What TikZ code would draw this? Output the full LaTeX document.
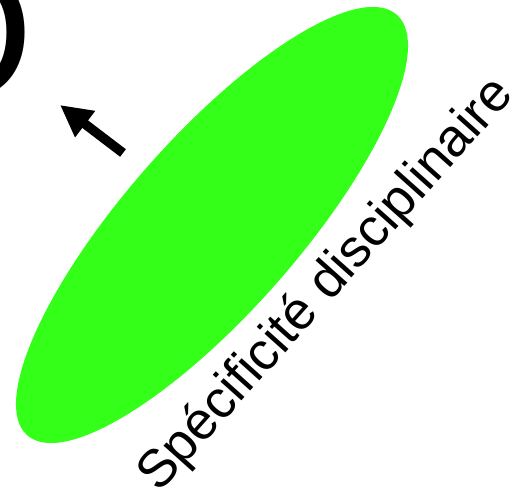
\documentclass[tikz,border=0pt]{standalone}
\usepackage{fontspec}
\setmainfont{Liberation Sans}
\usetikzlibrary{arrows.meta, positioning, shapes.geometric}

\definecolor{discgreen}{RGB}{51,255,25}

\begin{document}
\begin{tikzpicture}[
  x=0.02cm, y=0.02cm,
  blob/.style={ellipse, fill=discgreen, draw=none, inner sep=0pt, minimum width=11.2cm, minimum height=3.48cm},
  lbl/.style={inner sep=0pt, font=\fontsize{30.2}{33}\selectfont},
  bigletter/.style={inner sep=0pt, font=\fontsize{108}{110}\selectfont},
  arr/.style={-{Triangle[length=18pt, width=17.6pt]}, line width=5.4pt},
]
  \useasboundingbox (0,0) rectangle (515,493);
  \clip (0,0) rectangle (515,493);

  \node[bigletter] (letter) at (-40,460) {O};
  \node[blob, rotate=48.7] (disc) at (212,268) {};
  \node[lbl, rotate=48.2, anchor=base west] (spec) at (159,-1) {Spécificité disciplinaire};

  \coordinate (tail) at (123,340);
  \coordinate (tip) at (60,388);
  \draw[arr] (tail) -- (tip);
\end{tikzpicture}
\end{document}
